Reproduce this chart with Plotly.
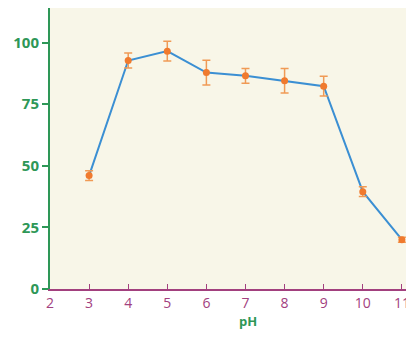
import plotly.graph_objects as go

ph = [3, 4, 5, 6, 7, 8, 9, 10, 11]
activity = [46, 92.7, 96.5, 87.8, 86.5, 84.5, 82.3, 39.5, 20]
error = [2, 3, 4, 5, 3, 5, 4, 2, 1]
x_ticks = [2, 3, 4, 5, 6, 7, 8, 9, 10, 11]
y_ticks = [0, 25, 50, 75, 100]

green = "#2e9757"
purple = "#a2407e"

fig = go.Figure()
fig.add_trace(go.Scatter(
    x=ph, y=activity, mode="lines",
    line=dict(color="#3b8fd3", width=2),
    hoverinfo="skip", showlegend=False,
))
fig.add_trace(go.Scatter(
    x=ph, y=activity, mode="markers",
    marker=dict(color="#f07a2e", size=7),
    error_y=dict(type="data", array=error, color="#f09a55", thickness=1.5, width=4),
    showlegend=False,
))

fig.add_annotation(
    text="<b>pH</b>", xref="paper", yref="paper", x=0.544, y=0,
    xanchor="center", yanchor="top", yshift=-22, showarrow=False,
    borderpad=0, font=dict(color=green, size=13),
)

fig.update_layout(
    width=406, height=322,
    margin=dict(l=42, r=0, t=0, b=41),
    paper_bgcolor="white",
    plot_bgcolor="#f8f6e8",
    font=dict(family="Open Sans", size=14),
    xaxis=dict(
        range=[2, 11.31], tickvals=x_ticks, ticktext=[str(v) for v in x_ticks],
        showgrid=False, zeroline=False,
        showline=True, linecolor=purple, linewidth=2,
        ticks="inside", ticklen=5, tickcolor=purple, tickwidth=1,
        tickfont=dict(color=purple, size=14),
    ),
    yaxis=dict(
        range=[0, 114], tickvals=y_ticks,
        showgrid=False, zeroline=False,
        showline=True, linecolor=green, linewidth=2,
        ticks="outside", ticklen=6, tickcolor=green, tickwidth=2,
        tickfont=dict(color=green, size=15, weight="bold"),
    ),
)

fig.write_html("out.html")
